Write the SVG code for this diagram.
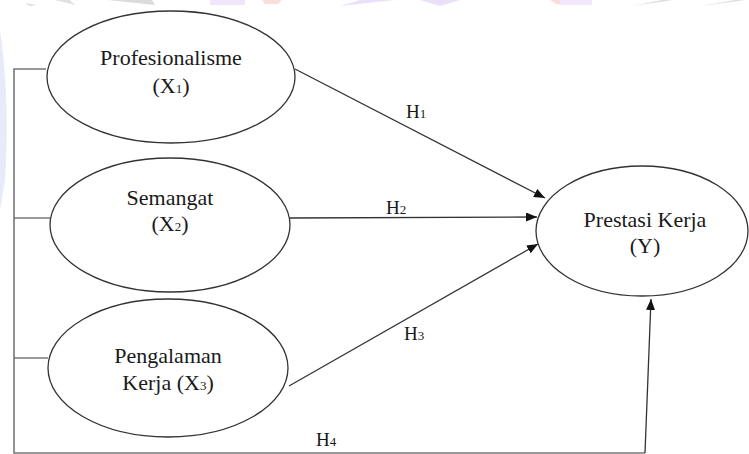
<svg xmlns="http://www.w3.org/2000/svg" width="749" height="454" viewBox="0 0 749 454">
<style>
.node ellipse{fill:#fff;stroke:#333;stroke-width:1.3}
.lbl{font-family:"Liberation Serif","Times New Roman",serif;font-size:22px;fill:#1a1a1a;text-anchor:middle}
.h{font-family:"Liberation Serif","Times New Roman",serif;font-size:19px;fill:#1a1a1a}
.sub{font-size:13px}
.conn line,.conn polyline{stroke:#333;stroke-width:1.3;fill:none}
.br{stroke:#777 !important;stroke-width:1.6 !important}
.wm{opacity:0.35}
</style>
<defs>
<marker id="arr" markerUnits="userSpaceOnUse" markerWidth="12" markerHeight="10" refX="11" refY="4.5" orient="auto">
<path d="M0,0 L11,4.5 L0,9 z" fill="#111"/>
</marker>
</defs>
<rect width="749" height="454" fill="#fff"/>
<g id="watermark" class="wm">
<path d="M25,3 L30,6 L36,5 Z" fill="#999"/>
<path d="M55,0 L75,5 L70,0 Z" fill="#aaa"/>
<path d="M108,0 L155,5 L152,0 Z" fill="#999"/>
<rect x="210" y="0" width="35" height="5" fill="#d9b8f0"/>
<path d="M262,0 L282,0 L278,4 L265,4 Z" fill="#f2a0a0"/>
<path d="M340,6 L360,0 L420,0 L440,6 L460,0 L395,0 Z" fill="#c8a8f0"/>
<path d="M550,0 L572,0 L566,5 L556,4 Z" fill="#f2a0a0"/>
<rect x="560" y="0" width="32" height="5" fill="#d8c0f2"/>
<path d="M632,6 L672,0 L662,0 Z" fill="#999"/>
<path d="M700,6 L745,0 L735,0 Z" fill="#999"/>
<path d="M0,30 Q10,100 5,180 L0,210 Z" fill="#b8c4f0"/>
</g>
<g id="connectors" class="conn">
<polyline class="br" points="46,69 14,69 14,453 645,453"/>
<line class="br" x1="14" y1="218" x2="50" y2="218"/>
<line class="br" x1="14" y1="358" x2="48" y2="358"/>
<line x1="295" y1="69" x2="545" y2="198" marker-end="url(#arr)"/>
<line x1="290" y1="218" x2="537" y2="217" marker-end="url(#arr)"/>
<line x1="289" y1="386" x2="538" y2="244" marker-end="url(#arr)"/>
<line x1="645" y1="453" x2="651" y2="299" marker-end="url(#arr)"/>
<text class="h" x="406" y="118">H<tspan class="sub">1</tspan></text>
<text class="h" x="386" y="214">H<tspan class="sub">2</tspan></text>
<text class="h" x="404" y="340">H<tspan class="sub">3</tspan></text>
<text class="h" x="316" y="446">H<tspan class="sub">4</tspan></text>
</g>
<g id="x1" class="node">
<ellipse cx="171" cy="77" rx="124" ry="66"/>
<text class="lbl" x="171" y="65">Profesionalisme</text>
<text class="lbl" x="171" y="93">(X<tspan class="sub">1</tspan>)</text>
</g>
<g id="x2" class="node">
<ellipse cx="170" cy="225" rx="120" ry="67"/>
<text class="lbl" x="170" y="205">Semangat</text>
<text class="lbl" x="170" y="231">(X<tspan class="sub">2</tspan>)</text>
</g>
<g id="x3" class="node">
<ellipse cx="168" cy="368" rx="120" ry="69"/>
<text class="lbl" x="168" y="363">Pengalaman</text>
<text class="lbl" x="168" y="390">Kerja (X<tspan class="sub">3</tspan>)</text>
</g>
<g id="y" class="node">
<ellipse cx="642" cy="231" rx="106" ry="65"/>
<text class="lbl" x="645" y="227">Prestasi Kerja</text>
<text class="lbl" x="645" y="253">(Y)</text>
</g>
</svg>
